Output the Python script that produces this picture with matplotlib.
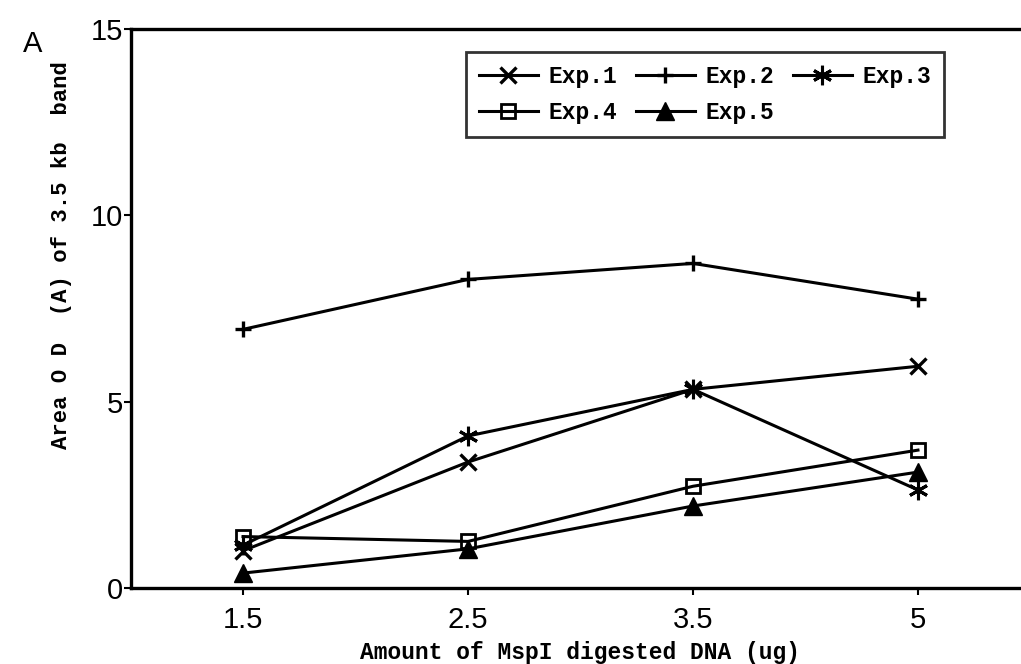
import matplotlib
matplotlib.use("Agg")
import matplotlib.pyplot as plt
import numpy as np

# values
doses = ["1.5", "2.5", "3.5", "5"]
exp1 = [1.00, 3.38, 5.33, 5.95]
exp2 = [6.94, 8.28, 8.71, 7.75]
exp3 = [1.15, 4.08, 5.33, 2.63]
exp4 = [1.38, 1.25, 2.73, 3.70]
exp5 = [0.40, 1.05, 2.20, 3.11]
y_ticks = [0, 5, 10, 15]

series_names = ["Exp.1", "Exp.2", "Exp.3", "Exp.4", "Exp.5"]

MONO = "Liberation Mono"
SANS = "Liberation Sans"

fig = plt.figure(figsize=(10.21, 6.64), dpi=100)
ax = fig.add_axes([131 / 1021, 1 - 588 / 664, 1 - 131 / 1021, (588 - 29) / 664])

pos = np.arange(len(doses))
lw = 2.2
styles = [
    dict(marker="x", ms=12, mew=2.4),
    dict(marker="+", ms=12, mew=2.4),
    dict(marker=(6, 2, 0), ms=14, mew=2.2),
    dict(marker="s", ms=10, mew=2.0, mfc="none"),
    dict(marker="^", ms=13, mew=1.0),
]
lines = []
for vals, name, st in zip([exp1, exp2, exp3, exp4, exp5], series_names, styles):
    ln, = ax.plot(pos, vals, color="black", lw=lw, label=name, **st)
    lines.append(ln)

ax.set_xlim(-0.498, 3.458)
ax.set_ylim(0, 15)
ax.set_xticks(pos)
ax.set_xticklabels(doses, fontfamily=SANS, fontsize=21)
ax.set_yticks(y_ticks)
ax.set_yticklabels([str(v) for v in y_ticks], fontfamily=SANS, fontsize=21)
ax.tick_params(axis="x", direction="out", length=5, width=1.5, pad=8)
ax.tick_params(axis="y", direction="out", length=5, width=1.5, pad=1)

for side in ["left", "bottom", "top"]:
    ax.spines[side].set_linewidth(2.4)
ax.spines["right"].set_visible(False)

# legend filled row by row: Exp.1 Exp.2 Exp.3 / Exp.4 Exp.5
order = [0, 3, 1, 4, 2]
leg = ax.legend(
    [lines[i] for i in order], [series_names[i] for i in order],
    ncol=3, loc="upper left",
    bbox_to_anchor=(466 / 1021, 1 - 52 / 664), bbox_transform=fig.transFigure,
    prop=dict(family=MONO, weight="bold", size=16.5),
    handlelength=2.6, handletextpad=0.45, columnspacing=0.8,
    labelspacing=0.6, borderpad=0.55, borderaxespad=0,
    frameon=True, fancybox=False,
)
leg.get_frame().set_edgecolor("black")
leg.get_frame().set_linewidth(2.0)

fig.text(580 / 1021, 1 - 652 / 664, "Amount of MspI digested DNA (ug)",
         ha="center", va="center", fontfamily=MONO, fontweight="bold", fontsize=16.5)
fig.text(62 / 1021, 1 - 255 / 664, "Area O D  (A) of 3.5 kb  band", rotation=90,
         ha="center", va="center", fontfamily=MONO, fontweight="bold", fontsize=16)
fig.text(33 / 1021, 1 - 44 / 664, "A", ha="center", va="center",
         fontfamily=SANS, fontsize=21)

fig.savefig("out.png", dpi=100)
